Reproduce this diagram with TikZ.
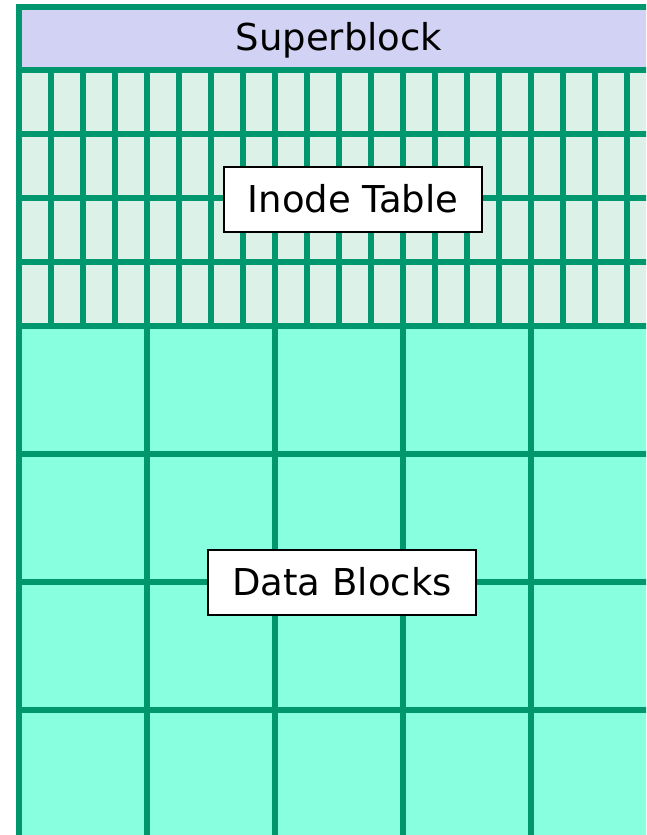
\documentclass[tikz,border=0pt]{standalone}
\usepackage{fontspec}
\setmainfont{DejaVu Sans}
\definecolor{gridline}{RGB}{0,150,110}
\definecolor{superfill}{RGB}{210,210,244}
\definecolor{inodefill}{RGB}{220,242,232}
\definecolor{datafill}{RGB}{136,255,222}
\tikzset{
gridpen/.style={draw=gridline,line width=6.5pt},
labelbox/.style={rectangle,draw=black,line width=2pt,fill=white,
  inner xsep=24pt,minimum height=65pt,font=\fontsize{37}{44}\selectfont},
}
\begin{document}
\begin{tikzpicture}[x=1pt,y=-1pt]
\useasboundingbox (0,0) rectangle (646,835);
\clip (0,0) rectangle (646,835);
% areas
\fill[superfill] (19,7) rectangle (680,70);
\fill[inodefill] (19,70) rectangle (680,326);
\fill[datafill] (19,326) rectangle (680,860);
% inode table grid
\foreach \x in {1,...,20} \draw[gridpen] (19+32*\x,70) -- (19+32*\x,326);
\foreach \y in {134,198,262} \draw[gridpen] (19,\y) -- (680,\y);
% data block grid
\foreach \x in {147,275,403,531,659} \draw[gridpen] (\x,326) -- (\x,860);
\foreach \y in {454,582,710} \draw[gridpen] (19,\y) -- (680,\y);
% frame
\draw[gridpen] (19,70) -- (680,70);
\draw[gridpen] (19,326) -- (680,326);
\draw[gridpen] (680,7) -- (19,7) -- (19,860);
% labels
\node[font=\fontsize{37}{44}\selectfont] (superblock) at (339,40) {Superblock};
\node[labelbox] (inode) at (353,199) {Inode Table};
\node[labelbox] (data) at (342,582) {Data Blocks};
\end{tikzpicture}
\end{document}
